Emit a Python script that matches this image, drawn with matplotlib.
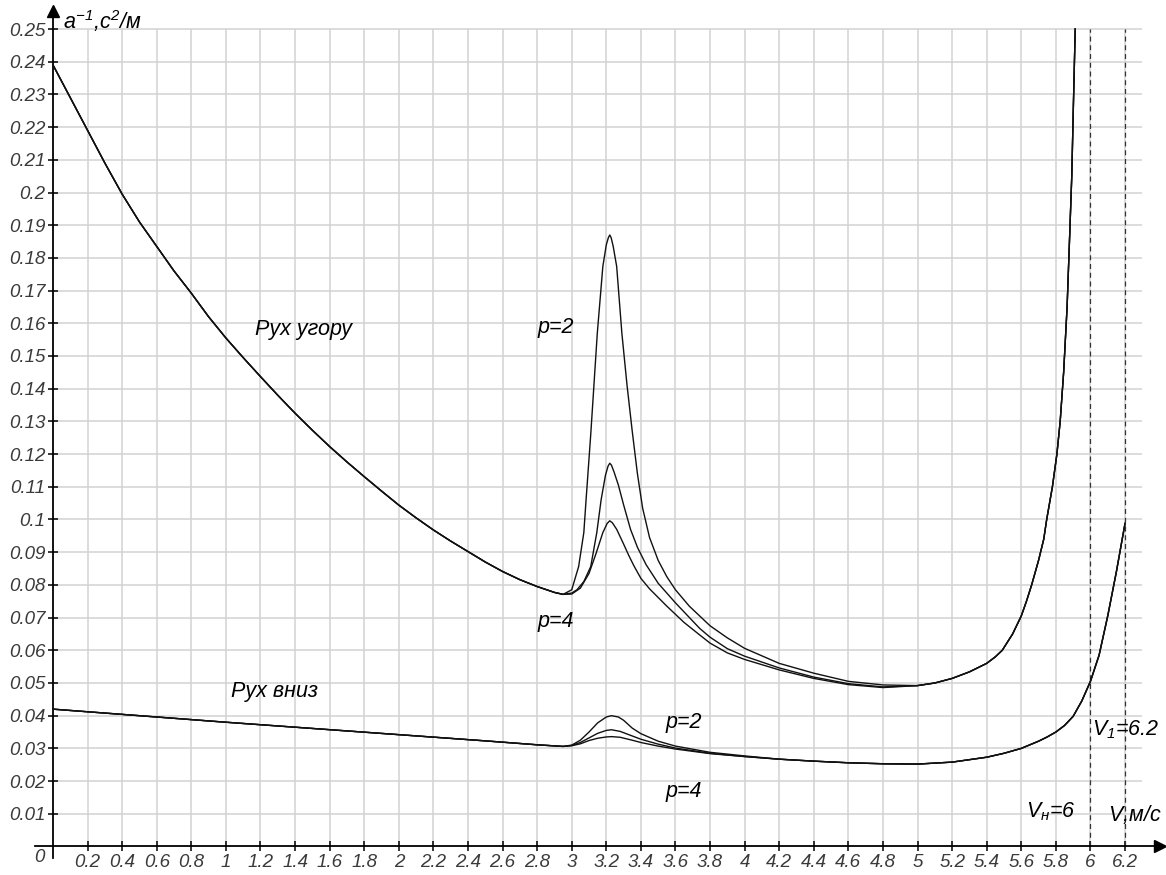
import numpy as np
import matplotlib
matplotlib.use("Agg")
from matplotlib import pyplot as plt

plt.rcParams['font.family'] = ['Liberation Sans', 'DejaVu Sans']
plt.rcParams['mathtext.fontset'] = 'custom'
plt.rcParams['mathtext.it'] = 'Liberation Sans:italic'
plt.rcParams['mathtext.rm'] = 'Liberation Sans:italic'

# --- дані (рух угору) ---
up_base_x = [0.0, 0.1, 0.2, 0.3, 0.4, 0.5, 0.6, 0.7, 0.8, 0.9, 1.0, 1.1, 1.2, 1.3, 1.4, 1.5,
             1.6, 1.7, 1.8, 1.9, 2.0, 2.1, 2.2, 2.3, 2.4, 2.5, 2.6, 2.7, 2.8, 2.9, 2.95]
up_base_y = [0.239, 0.229, 0.219, 0.209, 0.1995, 0.191, 0.1835, 0.176, 0.1692, 0.162, 0.1555,
             0.1495, 0.1437, 0.138, 0.1325, 0.1273, 0.1223, 0.1176, 0.1131, 0.1087, 0.1044,
             0.1005, 0.0968, 0.0934, 0.0902, 0.087, 0.0841, 0.0816, 0.0795, 0.0777, 0.0771]

up_p2_x = [3.0, 3.04, 3.07, 3.083, 3.11, 3.148, 3.18, 3.2, 3.212, 3.22, 3.228, 3.24, 3.26,
           3.29, 3.32, 3.35, 3.38, 3.41, 3.45, 3.5, 3.55, 3.6, 3.68, 3.8, 3.9, 4.0, 4.2,
           4.4, 4.6, 4.8]
up_p2_y = [0.0785, 0.0856, 0.096, 0.106, 0.126, 0.157, 0.1774, 0.1840, 0.1862, 0.1870,
           0.1862, 0.1835, 0.1774, 0.157, 0.141, 0.127, 0.114, 0.1035, 0.0945, 0.0875,
           0.0825, 0.0785, 0.0735, 0.0675, 0.0638, 0.0606, 0.056, 0.053, 0.0505, 0.0494]

up_p3_x = [3.0, 3.03, 3.07, 3.11, 3.145, 3.17, 3.195, 3.21, 3.22, 3.23, 3.245, 3.27, 3.3,
           3.34, 3.38, 3.43, 3.5, 3.6, 3.74, 3.8, 3.9, 4.0, 4.2, 4.4, 4.6, 4.8]
up_p3_y = [0.0775, 0.0785, 0.081, 0.0856, 0.096, 0.106, 0.1135, 0.1163, 0.1172, 0.1166,
           0.1145, 0.1105, 0.1045, 0.097, 0.0915, 0.0862, 0.0805, 0.0745, 0.0667, 0.064,
           0.0605, 0.0582, 0.0546, 0.0518, 0.0498, 0.0488]

up_p4_x = [3.0, 3.05, 3.1, 3.14, 3.18, 3.205, 3.22, 3.235, 3.26, 3.3, 3.33, 3.36, 3.4,
           3.45, 3.55, 3.65, 3.74, 3.8, 3.9, 4.0, 4.2, 4.4, 4.6, 4.8]
up_p4_y = [0.0772, 0.079, 0.0835, 0.0895, 0.096, 0.0988, 0.0996, 0.099, 0.097, 0.0925,
           0.089, 0.0858, 0.082, 0.0788, 0.0735, 0.0685, 0.0647, 0.0622, 0.0592, 0.0572,
           0.054, 0.0514, 0.0495, 0.0486]

up_tail_x = [5.0, 5.1, 5.2, 5.3, 5.4, 5.45, 5.49, 5.55, 5.6, 5.63, 5.66, 5.7, 5.73, 5.747,
             5.78, 5.806, 5.825, 5.845, 5.865, 5.88, 5.892, 5.902, 5.912]
up_tail_y = [0.0492, 0.05, 0.0514, 0.0534, 0.056, 0.058, 0.06, 0.065, 0.0705, 0.075, 0.08,
             0.0875, 0.094, 0.1, 0.11, 0.12, 0.13, 0.145, 0.165, 0.187, 0.205, 0.228, 0.25]

# --- дані (рух вниз) ---
dn_base_x = [0.0, 0.5, 1.0, 1.5, 2.0, 2.5, 2.8, 2.95]
dn_base_y = [0.042, 0.04, 0.038, 0.0361, 0.0342, 0.0323, 0.0311, 0.0306]

dn_p2_x = [3.0, 3.05, 3.1, 3.15, 3.2, 3.23, 3.27, 3.3, 3.35, 3.4, 3.5, 3.6, 3.8, 4.0]
dn_p2_y = [0.031, 0.0325, 0.035, 0.0378, 0.0396, 0.04, 0.0396, 0.0386, 0.0362, 0.0345,
           0.0322, 0.0307, 0.0288, 0.0277]
dn_p3_x = [3.0, 3.05, 3.1, 3.15, 3.2, 3.23, 3.28, 3.35, 3.4, 3.5, 3.6, 3.8, 4.0]
dn_p3_y = [0.0309, 0.0318, 0.0332, 0.0346, 0.0355, 0.0357, 0.0352, 0.0338, 0.0328, 0.0313,
           0.0301, 0.0285, 0.0275]
dn_p4_x = [3.0, 3.05, 3.1, 3.15, 3.2, 3.23, 3.28, 3.35, 3.4, 3.5, 3.6, 3.8, 4.0]
dn_p4_y = [0.0308, 0.0314, 0.0324, 0.0331, 0.0335, 0.0336, 0.0334, 0.0325, 0.0318, 0.0307,
           0.0298, 0.0284, 0.0275]

dn_tail_x = [4.2, 4.4, 4.6, 4.8, 5.0, 5.2, 5.4, 5.5, 5.6, 5.7, 5.75, 5.8, 5.85, 5.9, 5.95,
             6.0, 6.05, 6.1, 6.15, 6.2]
dn_tail_y = [0.0267, 0.0261, 0.0256, 0.0253, 0.0252, 0.0258, 0.0273, 0.0285, 0.03, 0.0322,
             0.0335, 0.035, 0.037, 0.0398, 0.0445, 0.0505, 0.0585, 0.0705, 0.084, 0.0988]

x_ticks = [round(0.2 * i, 1) for i in range(1, 32)]
y_ticks = [round(0.01 * i, 2) for i in range(1, 26)]
v_lines = [6.0, 6.2]

fig = plt.figure(figsize=(11.66, 8.75), dpi=100)
ax = fig.add_axes([0, 0, 1, 1])
ax.set_xlim(-0.3065, 6.437)
ax.set_ylim(-0.00872, 0.25887)

# сітка
grid_c = '#d2d2d2'
ax.hlines(y_ticks, 0, 6.3, colors=grid_c, lw=1.1, zorder=1)
ax.vlines(x_ticks, 0, 0.25, colors=grid_c, lw=1.1, zorder=1)
ax.vlines(v_lines, 0, 0.25, colors='#333333', lw=0.9, linestyles=(0, (4, 3)), zorder=2)

# осі
for s in ['top', 'right']:
    ax.spines[s].set_visible(False)
ax.spines['left'].set_position(('data', 0))
ax.spines['bottom'].set_position(('data', 0))
ax.spines['left'].set_bounds(-0.0035, 0.2555)
ax.spines['bottom'].set_bounds(-0.105, 6.39)
ax.spines['left'].set_linewidth(1.3)
ax.spines['bottom'].set_linewidth(1.3)
ax.plot(6.40, 0, '>', color='k', ms=8, clip_on=False, zorder=5)
ax.plot(0, 0.2555, '^', color='k', ms=8, clip_on=False, zorder=5)

ax.set_xticks(x_ticks)
ax.set_xticklabels(['%d' % v if abs(v - round(v)) < 1e-9 else '%.1f' % v for v in x_ticks])
ax.set_yticks(y_ticks)
ax.set_yticklabels(['%g' % v for v in y_ticks])
ax.tick_params(direction='inout', length=7, width=1.1, colors='k', labelcolor='#3a3a3a',
               labelsize=13.5, pad=2)
for lab in ax.get_xticklabels() + ax.get_yticklabels():
    lab.set_style('italic')
ax.text(-0.05, -0.0035, '0', ha='right', va='center', style='italic', fontsize=13.5,
        color='#3a3a3a')

# криві
line_c = '#111111'
for px, py in [(up_p2_x, up_p2_y), (up_p3_x, up_p3_y), (up_p4_x, up_p4_y)]:
    xs = up_base_x + px + up_tail_x
    ys = up_base_y + py + up_tail_y
    ax.plot(xs, ys, color=line_c, lw=1.0, zorder=3)
for px, py in [(dn_p2_x, dn_p2_y), (dn_p3_x, dn_p3_y), (dn_p4_x, dn_p4_y)]:
    xs = dn_base_x + px + dn_tail_x
    ys = dn_base_y + py + dn_tail_y
    ax.plot(xs, ys, color=line_c, lw=1.0, zorder=3)

# підписи
fs = 15.5
ax.text(1.17, 0.158, 'Рух угору', style='italic', fontsize=fs, va='center')
ax.text(1.03, 0.0473, 'Рух вниз', style='italic', fontsize=fs, va='center')
ax.text(2.80, 0.1586, 'p=2', style='italic', fontsize=fs, va='center')
ax.text(2.80, 0.0687, 'p=4', style='italic', fontsize=fs, va='center')
ax.text(3.54, 0.038, 'p=2', style='italic', fontsize=fs, va='center')
ax.text(3.54, 0.0167, 'p=4', style='italic', fontsize=fs, va='center')
ax.text(5.63, 0.0106, r'$V_{н}$=6', style='italic', fontsize=fs, va='center')
ax.text(6.01, 0.0357, r'$V_{1}$=6.2', style='italic', fontsize=fs, va='center')
ax.text(6.10, 0.0097, r'$V$,м/с', style='italic', fontsize=fs, va='center')
ax.text(0.06, 0.2525, r'$a^{-1}$,с$^{2}$/м', style='italic', fontsize=fs, va='center')

fig.savefig('out.png', dpi=100)
